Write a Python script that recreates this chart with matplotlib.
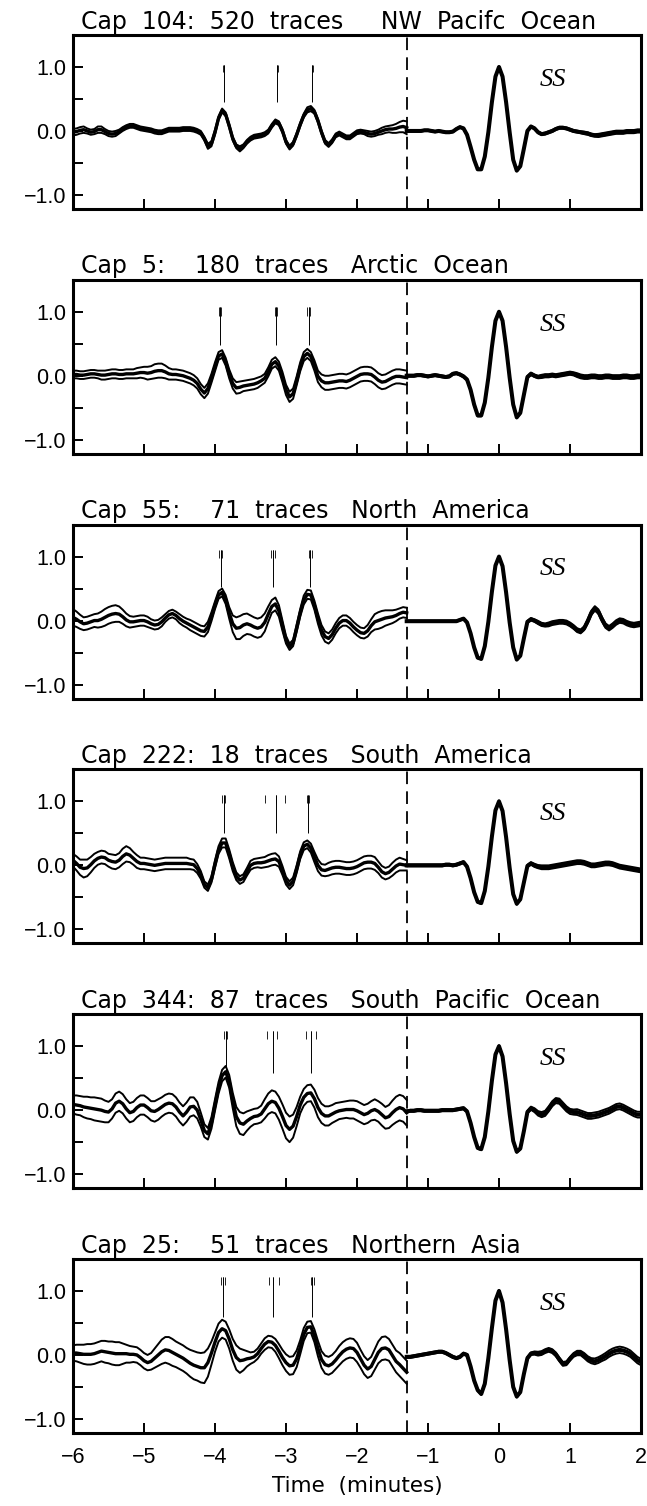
"""Stacked SS precursor stacks for six caps (mean trace with +/- spread)."""
import numpy as np
import matplotlib.pyplot as plt

# ── data ─────────────────────────────────────────────────────────────
titles = [
    "Cap  104:  520  traces     NW  Pacifc  Ocean",
    "Cap  5:    180  traces   Arctic  Ocean",
    "Cap  55:    71  traces   North  America",
    "Cap  222:  18  traces   South  America",
    "Cap  344:  87  traces   South  Pacific  Ocean",
    "Cap  25:    51  traces   Northern  Asia",
]

# time samples (minutes) of the precursor window and of the SS window
t_pre = np.linspace(-6.0, -1.3, 95)
t_ss = np.linspace(-1.3, 2.0, 67)
window_split = -1.3

# precursor window: stacked mean and spread, one list per cap
pre_mean_104 = [
    -0.02, -0.01, 0.01, 0.02, 0.00, -0.02, -0.01, 0.02, 0.02, -0.01,
    -0.04, -0.05, -0.04, -0.01, 0.03, 0.06, 0.08, 0.08, 0.06, 0.04,
    0.03, 0.02, 0.01, -0.01, -0.02, -0.02, 0.00, 0.02, 0.02, 0.02,
    0.02, 0.03, 0.03, 0.03, 0.02, 0.00, -0.03, -0.12, -0.24, -0.20,
    -0.02, 0.20, 0.32, 0.26, 0.08, -0.12, -0.24, -0.28, -0.24, -0.17,
    -0.12, -0.09, -0.08, -0.07, -0.05, -0.01, 0.08, 0.15, 0.12, 0.00,
    -0.17, -0.26, -0.20, -0.06, 0.10, 0.24, 0.33, 0.35, 0.30, 0.16,
    -0.02, -0.17, -0.22, -0.16, -0.07, -0.04, -0.07, -0.10, -0.10, -0.06,
    -0.02, -0.01, -0.02, -0.04, -0.05, -0.04, -0.02, 0.00, 0.02, 0.03,
    0.03, 0.04, 0.06, 0.07, 0.05]
pre_spread_104 = [
    0.05, 0.05, 0.05, 0.05, 0.04, 0.04, 0.04, 0.05, 0.05, 0.04,
    0.04, 0.04, 0.04, 0.03, 0.03, 0.03, 0.03, 0.03, 0.03, 0.03,
    0.03, 0.03, 0.03, 0.03, 0.03, 0.03, 0.03, 0.03, 0.03, 0.03,
    0.03, 0.03, 0.03, 0.03, 0.03, 0.03, 0.03, 0.03, 0.04, 0.04,
    0.04, 0.03, 0.03, 0.03, 0.03, 0.03, 0.03, 0.04, 0.03, 0.03,
    0.03, 0.03, 0.03, 0.03, 0.03, 0.03, 0.03, 0.03, 0.03, 0.03,
    0.03, 0.03, 0.03, 0.03, 0.03, 0.03, 0.04, 0.04, 0.03, 0.03,
    0.03, 0.03, 0.03, 0.03, 0.03, 0.03, 0.03, 0.03, 0.03, 0.03,
    0.03, 0.03, 0.03, 0.04, 0.04, 0.04, 0.04, 0.05, 0.05, 0.05,
    0.06, 0.07, 0.08, 0.09, 0.10]

pre_mean_5 = [
    0.02, 0.02, 0.01, 0.01, 0.02, 0.03, 0.03, 0.02, 0.01, 0.01,
    0.02, 0.03, 0.03, 0.02, 0.02, 0.03, 0.03, 0.03, 0.04, 0.05,
    0.05, 0.04, 0.05, 0.07, 0.08, 0.08, 0.06, 0.03, 0.02, 0.02,
    0.01, 0.00, -0.02, -0.04, -0.07, -0.12, -0.21, -0.27, -0.20, -0.04,
    0.14, 0.31, 0.34, 0.22, 0.03, -0.12, -0.19, -0.18, -0.16, -0.15,
    -0.14, -0.13, -0.11, -0.08, -0.04, 0.06, 0.18, 0.22, 0.15, -0.02,
    -0.22, -0.33, -0.28, -0.08, 0.14, 0.30, 0.35, 0.30, 0.16, -0.01,
    -0.08, -0.11, -0.11, -0.10, -0.09, -0.08, -0.08, -0.09, -0.07, -0.04,
    -0.01, 0.02, 0.03, 0.03, 0.02, -0.02, -0.07, -0.10, -0.09, -0.06,
    -0.03, -0.01, -0.01, -0.02, -0.03]
pre_spread_5 = [
    0.06, 0.06, 0.06, 0.06, 0.06, 0.06, 0.06, 0.06, 0.07, 0.07,
    0.07, 0.07, 0.07, 0.07, 0.07, 0.07, 0.07, 0.07, 0.08, 0.08,
    0.09, 0.10, 0.10, 0.11, 0.11, 0.11, 0.10, 0.09, 0.08, 0.08,
    0.08, 0.08, 0.08, 0.08, 0.08, 0.08, 0.08, 0.08, 0.08, 0.07,
    0.07, 0.06, 0.06, 0.06, 0.07, 0.08, 0.09, 0.09, 0.08, 0.08,
    0.08, 0.08, 0.08, 0.07, 0.07, 0.07, 0.07, 0.07, 0.07, 0.08,
    0.08, 0.08, 0.08, 0.07, 0.07, 0.07, 0.07, 0.07, 0.08, 0.09,
    0.10, 0.11, 0.11, 0.11, 0.11, 0.11, 0.11, 0.11, 0.11, 0.11,
    0.11, 0.11, 0.11, 0.11, 0.11, 0.11, 0.11, 0.11, 0.11, 0.11,
    0.11, 0.11, 0.11, 0.11, 0.11]

pre_mean_55 = [
    0.05, 0.02, -0.02, -0.05, -0.04, -0.02, 0.00, 0.00, 0.02, 0.05,
    0.08, 0.10, 0.11, 0.10, 0.06, 0.01, -0.02, -0.02, -0.01, 0.00,
    0.00, -0.02, -0.05, -0.07, -0.06, -0.02, 0.04, 0.09, 0.11, 0.08,
    0.03, -0.01, -0.04, -0.07, -0.10, -0.13, -0.16, -0.17, -0.10, 0.06,
    0.24, 0.40, 0.44, 0.33, 0.12, -0.05, -0.12, -0.11, -0.07, -0.05,
    -0.07, -0.10, -0.12, -0.10, -0.03, 0.10, 0.22, 0.26, 0.15, -0.08,
    -0.30, -0.41, -0.35, -0.12, 0.12, 0.32, 0.41, 0.40, 0.24, 0.03,
    -0.15, -0.25, -0.28, -0.22, -0.12, -0.04, 0.00, 0.00, -0.04, -0.10,
    -0.15, -0.19, -0.20, -0.16, -0.08, -0.02, 0.00, 0.02, 0.04, 0.05,
    0.06, 0.08, 0.11, 0.13, 0.12]
pre_spread_55 = [
    0.13, 0.12, 0.11, 0.10, 0.10, 0.10, 0.10, 0.11, 0.12, 0.13,
    0.13, 0.13, 0.13, 0.12, 0.11, 0.10, 0.09, 0.08, 0.08, 0.08,
    0.08, 0.08, 0.07, 0.07, 0.07, 0.07, 0.06, 0.06, 0.06, 0.06,
    0.07, 0.07, 0.07, 0.08, 0.08, 0.08, 0.08, 0.08, 0.08, 0.07,
    0.06, 0.06, 0.06, 0.07, 0.09, 0.13, 0.17, 0.18, 0.17, 0.16,
    0.15, 0.15, 0.15, 0.15, 0.14, 0.12, 0.10, 0.10, 0.09, 0.08,
    0.06, 0.05, 0.05, 0.06, 0.06, 0.07, 0.07, 0.07, 0.07, 0.08,
    0.08, 0.08, 0.08, 0.08, 0.08, 0.08, 0.08, 0.08, 0.08, 0.08,
    0.08, 0.08, 0.08, 0.09, 0.10, 0.12, 0.13, 0.13, 0.12, 0.11,
    0.10, 0.09, 0.08, 0.08, 0.08]

pre_mean_222 = [
    0.08, 0.03, -0.03, -0.05, -0.04, 0.01, 0.07, 0.11, 0.13, 0.12,
    0.08, 0.06, 0.05, 0.08, 0.14, 0.18, 0.16, 0.11, 0.06, 0.03,
    0.03, 0.02, 0.01, 0.00, 0.01, 0.02, 0.03, 0.03, 0.03, 0.03,
    0.03, 0.03, 0.03, 0.02, 0.01, -0.05, -0.15, -0.30, -0.35, -0.22,
    0.02, 0.24, 0.35, 0.35, 0.18, -0.02, -0.17, -0.23, -0.20, -0.10,
    0.00, 0.03, 0.04, 0.04, 0.05, 0.07, 0.09, 0.10, 0.06, -0.08,
    -0.24, -0.31, -0.25, -0.06, 0.16, 0.30, 0.33, 0.27, 0.13, 0.00,
    -0.07, -0.08, -0.06, -0.04, -0.03, -0.03, -0.04, -0.05, -0.05, -0.04,
    -0.02, 0.01, 0.04, 0.05, 0.05, 0.03, -0.03, -0.10, -0.13, -0.11,
    -0.06, -0.01, 0.02, 0.01, 0.00]
pre_spread_222 = [
    0.10, 0.11, 0.12, 0.14, 0.13, 0.12, 0.11, 0.10, 0.10, 0.10,
    0.10, 0.11, 0.11, 0.11, 0.12, 0.12, 0.11, 0.10, 0.10, 0.09,
    0.09, 0.09, 0.09, 0.09, 0.09, 0.09, 0.09, 0.09, 0.09, 0.09,
    0.09, 0.09, 0.09, 0.08, 0.08, 0.07, 0.06, 0.05, 0.05, 0.05,
    0.06, 0.06, 0.07, 0.07, 0.07, 0.07, 0.06, 0.06, 0.06, 0.06,
    0.07, 0.07, 0.07, 0.08, 0.08, 0.09, 0.09, 0.09, 0.08, 0.07,
    0.06, 0.06, 0.06, 0.06, 0.06, 0.06, 0.06, 0.07, 0.08, 0.09,
    0.09, 0.09, 0.10, 0.10, 0.10, 0.10, 0.10, 0.10, 0.10, 0.10,
    0.10, 0.10, 0.10, 0.10, 0.10, 0.10, 0.09, 0.09, 0.09, 0.09,
    0.10, 0.10, 0.10, 0.09, 0.08]

pre_mean_344 = [
    0.09, 0.08, 0.07, 0.05, 0.04, 0.03, 0.02, 0.01, 0.00, -0.02,
    -0.03, 0.02, 0.11, 0.14, 0.10, 0.02, -0.04, -0.02, 0.04, 0.08,
    0.08, 0.04, -0.01, -0.02, 0.01, 0.05, 0.09, 0.11, 0.10, 0.05,
    -0.03, -0.09, -0.03, 0.05, 0.06, 0.00, -0.15, -0.32, -0.37, -0.20,
    0.08, 0.35, 0.54, 0.60, 0.45, 0.15, -0.10, -0.20, -0.22, -0.17,
    -0.13, -0.10, -0.09, -0.06, 0.02, 0.10, 0.14, 0.12, 0.03, -0.10,
    -0.24, -0.30, -0.25, -0.10, 0.08, 0.20, 0.26, 0.27, 0.18, 0.04,
    -0.05, -0.09, -0.09, -0.06, -0.03, -0.01, 0.00, 0.01, 0.01, 0.01,
    -0.01, -0.04, -0.07, -0.05, -0.01, 0.01, -0.02, -0.07, -0.12, -0.10,
    -0.04, 0.01, 0.04, 0.02, -0.04]
pre_spread_344 = [
    0.14, 0.15, 0.15, 0.16, 0.17, 0.17, 0.18, 0.18, 0.18, 0.17,
    0.16, 0.15, 0.15, 0.15, 0.15, 0.15, 0.15, 0.15, 0.15, 0.15,
    0.15, 0.15, 0.15, 0.16, 0.16, 0.15, 0.15, 0.15, 0.15, 0.15,
    0.15, 0.15, 0.15, 0.15, 0.14, 0.13, 0.11, 0.10, 0.09, 0.09,
    0.09, 0.09, 0.09, 0.09, 0.10, 0.12, 0.15, 0.17, 0.17, 0.15,
    0.13, 0.12, 0.12, 0.13, 0.15, 0.16, 0.17, 0.17, 0.18, 0.19,
    0.20, 0.20, 0.18, 0.15, 0.13, 0.13, 0.13, 0.13, 0.14, 0.15,
    0.15, 0.15, 0.15, 0.14, 0.14, 0.13, 0.13, 0.13, 0.14, 0.14,
    0.15, 0.15, 0.15, 0.15, 0.15, 0.16, 0.16, 0.17, 0.17, 0.18,
    0.19, 0.20, 0.20, 0.20, 0.20]

pre_mean_25 = [
    0.03, 0.03, 0.02, 0.01, 0.01, 0.01, 0.02, 0.04, 0.06, 0.05,
    0.04, 0.03, 0.02, 0.02, 0.02, 0.02, 0.01, 0.01, 0.00, -0.04,
    -0.09, -0.12, -0.10, -0.05, 0.00, 0.05, 0.08, 0.07, 0.04, 0.01,
    -0.02, -0.05, -0.09, -0.13, -0.16, -0.18, -0.20, -0.20, -0.12, 0.03,
    0.20, 0.35, 0.41, 0.38, 0.25, 0.08, -0.04, -0.09, -0.08, -0.06,
    -0.05, -0.03, 0.02, 0.10, 0.17, 0.21, 0.20, 0.15, 0.06, -0.04,
    -0.12, -0.17, -0.16, -0.06, 0.12, 0.32, 0.43, 0.44, 0.30, 0.10,
    -0.07, -0.15, -0.17, -0.14, -0.08, -0.01, 0.05, 0.09, 0.11, 0.10,
    0.04, -0.06, -0.16, -0.22, -0.18, -0.07, 0.04, 0.10, 0.11, 0.08,
    -0.01, -0.10, -0.15, -0.21, -0.27]
pre_spread_25 = [
    0.12, 0.13, 0.14, 0.15, 0.16, 0.16, 0.16, 0.16, 0.16, 0.17,
    0.17, 0.18, 0.18, 0.18, 0.16, 0.14, 0.13, 0.12, 0.12, 0.12,
    0.12, 0.12, 0.13, 0.15, 0.17, 0.19, 0.20, 0.21, 0.21, 0.20,
    0.20, 0.20, 0.20, 0.21, 0.22, 0.22, 0.23, 0.24, 0.22, 0.18,
    0.15, 0.14, 0.14, 0.14, 0.15, 0.17, 0.19, 0.19, 0.16, 0.12,
    0.09, 0.08, 0.08, 0.08, 0.09, 0.09, 0.09, 0.10, 0.11, 0.12,
    0.13, 0.14, 0.14, 0.13, 0.11, 0.10, 0.09, 0.09, 0.10, 0.12,
    0.13, 0.14, 0.14, 0.14, 0.14, 0.15, 0.15, 0.15, 0.15, 0.15,
    0.15, 0.14, 0.14, 0.14, 0.15, 0.16, 0.17, 0.18, 0.18, 0.17,
    0.17, 0.17, 0.18, 0.18, 0.18]

# SS window: stacked mean and spread, one list per cap
ss_mean_104 = [
    0.00, 0.00, 0.00, 0.00, 0.00, 0.01, 0.01, 0.00, -0.01, 0.00,
    -0.01, -0.02, -0.02, -0.01, 0.03, 0.06, 0.04, -0.06, -0.25, -0.45,
    -0.60, -0.60, -0.40, -0.02, 0.45, 0.85, 1.00, 0.85, 0.45, -0.02,
    -0.45, -0.62, -0.55, -0.28, 0.00, 0.07, 0.04, -0.02, -0.05, -0.04,
    -0.02, 0.00, 0.03, 0.05, 0.05, 0.04, 0.02, 0.00, -0.01, -0.02,
    -0.03, -0.04, -0.06, -0.07, -0.07, -0.06, -0.05, -0.04, -0.03, -0.02,
    -0.02, -0.02, -0.01, -0.01, -0.01, 0.00, 0.00]
ss_spread_104 = [
    0.01, 0.01, 0.01, 0.01, 0.01, 0.01, 0.01, 0.01, 0.01, 0.01,
    0.01, 0.01, 0.01, 0.01, 0.01, 0.01, 0.01, 0.01, 0.01, 0.01,
    0.01, 0.01, 0.01, 0.01, 0.01, 0.01, 0.01, 0.01, 0.01, 0.01,
    0.01, 0.01, 0.01, 0.01, 0.01, 0.01, 0.015, 0.015, 0.015, 0.015,
    0.015, 0.015, 0.015, 0.015, 0.015, 0.015, 0.015, 0.015, 0.015, 0.015,
    0.02, 0.02, 0.02, 0.02, 0.025, 0.025, 0.025, 0.025, 0.025, 0.025,
    0.025, 0.025, 0.025, 0.025, 0.025, 0.025, 0.025]

ss_mean_5 = [
    0.00, 0.00, 0.00, 0.01, 0.01, 0.00, -0.01, 0.00, 0.01, 0.00,
    -0.01, -0.02, -0.01, 0.03, 0.04, 0.02, -0.01, -0.06, -0.22, -0.45,
    -0.62, -0.62, -0.42, -0.03, 0.45, 0.86, 1.00, 0.86, 0.45, -0.03,
    -0.45, -0.65, -0.58, -0.30, -0.02, 0.03, 0.00, -0.02, -0.01, 0.00,
    0.00, 0.01, 0.00, 0.01, 0.02, 0.03, 0.04, 0.03, 0.01, -0.01,
    -0.02, -0.02, -0.01, -0.01, -0.02, -0.02, -0.01, -0.01, -0.02, -0.02,
    -0.02, -0.01, -0.01, -0.02, -0.02, -0.01, -0.01]
ss_spread_5 = [
    0.015, 0.015, 0.015, 0.015, 0.015, 0.015, 0.015, 0.015, 0.015, 0.015,
    0.015, 0.015, 0.015, 0.015, 0.015, 0.015, 0.015, 0.015, 0.015, 0.015,
    0.015, 0.015, 0.015, 0.015, 0.015, 0.015, 0.015, 0.015, 0.015, 0.015,
    0.015, 0.015, 0.015, 0.015, 0.015, 0.02, 0.02, 0.02, 0.025, 0.025,
    0.025, 0.025, 0.025, 0.025, 0.025, 0.025, 0.025, 0.025, 0.03, 0.03,
    0.03, 0.03, 0.03, 0.03, 0.03, 0.03, 0.03, 0.03, 0.03, 0.03,
    0.03, 0.03, 0.03, 0.03, 0.03, 0.03, 0.03]

ss_mean_55 = [
    -0.01, -0.01, -0.01, -0.01, -0.01, -0.01, -0.01, -0.01, -0.01, -0.01,
    -0.01, -0.01, -0.01, -0.01, -0.01, 0.01, 0.03, -0.03, -0.20, -0.42,
    -0.58, -0.60, -0.40, -0.02, 0.45, 0.86, 1.00, 0.85, 0.44, -0.03,
    -0.42, -0.61, -0.55, -0.28, -0.02, 0.02, 0.00, -0.03, -0.06, -0.07,
    -0.06, -0.04, -0.03, -0.02, -0.02, -0.03, -0.06, -0.10, -0.15, -0.17,
    -0.12, -0.01, 0.12, 0.19, 0.14, 0.02, -0.08, -0.12, -0.08, -0.03,
    0.00, -0.01, -0.04, -0.06, -0.07, -0.06, -0.05]
ss_spread_55 = [
    0.01, 0.01, 0.01, 0.01, 0.01, 0.01, 0.01, 0.01, 0.01, 0.01,
    0.01, 0.01, 0.01, 0.01, 0.01, 0.01, 0.01, 0.01, 0.01, 0.01,
    0.01, 0.01, 0.01, 0.01, 0.01, 0.01, 0.01, 0.01, 0.01, 0.01,
    0.01, 0.01, 0.01, 0.01, 0.015, 0.02, 0.02, 0.025, 0.025, 0.025,
    0.03, 0.03, 0.03, 0.03, 0.03, 0.03, 0.03, 0.03, 0.03, 0.03,
    0.03, 0.035, 0.035, 0.035, 0.035, 0.035, 0.035, 0.035, 0.035, 0.035,
    0.035, 0.035, 0.035, 0.035, 0.035, 0.035, 0.035]

ss_mean_222 = [
    0.00, 0.00, 0.00, 0.00, 0.00, 0.00, 0.00, 0.00, 0.00, 0.00,
    0.00, 0.01, 0.01, 0.00, 0.01, 0.03, 0.05, -0.02, -0.20, -0.42,
    -0.57, -0.59, -0.40, -0.02, 0.45, 0.86, 1.00, 0.85, 0.44, -0.04,
    -0.45, -0.60, -0.53, -0.27, -0.01, 0.03, 0.00, -0.02, -0.03, -0.03,
    -0.03, -0.02, -0.01, 0.00, 0.01, 0.02, 0.03, 0.04, 0.05, 0.05,
    0.04, 0.02, 0.00, 0.00, 0.01, 0.02, 0.03, 0.03, 0.02, 0.00,
    -0.02, -0.03, -0.04, -0.05, -0.06, -0.07, -0.08]
ss_spread_222 = [
    0.015, 0.015, 0.015, 0.015, 0.015, 0.015, 0.015, 0.015, 0.015, 0.015,
    0.015, 0.015, 0.015, 0.015, 0.015, 0.015, 0.015, 0.015, 0.015, 0.015,
    0.015, 0.015, 0.015, 0.015, 0.015, 0.015, 0.015, 0.015, 0.015, 0.015,
    0.015, 0.015, 0.015, 0.015, 0.02, 0.02, 0.025, 0.025, 0.03, 0.03,
    0.03, 0.03, 0.03, 0.03, 0.03, 0.03, 0.03, 0.03, 0.03, 0.03,
    0.03, 0.03, 0.03, 0.03, 0.03, 0.03, 0.03, 0.03, 0.03, 0.03,
    0.03, 0.03, 0.03, 0.03, 0.03, 0.03, 0.03]

ss_mean_344 = [
    -0.02, -0.01, -0.01, 0.00, 0.00, -0.01, -0.01, -0.01, -0.01, -0.01,
    0.00, 0.00, 0.00, 0.00, 0.01, 0.02, 0.03, -0.02, -0.20, -0.42,
    -0.59, -0.61, -0.42, -0.02, 0.46, 0.87, 1.00, 0.84, 0.42, -0.06,
    -0.48, -0.65, -0.60, -0.33, -0.03, 0.03, 0.00, -0.05, -0.07, -0.05,
    0.02, 0.10, 0.15, 0.14, 0.08, 0.02, -0.02, -0.03, -0.03, -0.05,
    -0.07, -0.09, -0.09, -0.08, -0.07, -0.05, -0.03, -0.01, 0.02, 0.05,
    0.06, 0.04, 0.01, -0.02, -0.05, -0.07, -0.07]
ss_spread_344 = [
    0.015, 0.015, 0.015, 0.015, 0.015, 0.015, 0.015, 0.015, 0.015, 0.015,
    0.015, 0.015, 0.015, 0.015, 0.015, 0.015, 0.015, 0.015, 0.015, 0.015,
    0.015, 0.015, 0.015, 0.015, 0.015, 0.015, 0.015, 0.015, 0.015, 0.015,
    0.015, 0.015, 0.015, 0.015, 0.02, 0.025, 0.03, 0.035, 0.04, 0.04,
    0.04, 0.04, 0.04, 0.04, 0.04, 0.04, 0.04, 0.04, 0.045, 0.045,
    0.045, 0.045, 0.045, 0.045, 0.045, 0.045, 0.045, 0.045, 0.045, 0.045,
    0.045, 0.045, 0.045, 0.045, 0.045, 0.045, 0.045]

ss_mean_25 = [
    -0.03, -0.03, -0.02, -0.01, 0.00, 0.01, 0.02, 0.03, 0.04, 0.05,
    0.05, 0.03, 0.00, -0.03, -0.05, -0.03, 0.02, 0.00, -0.18, -0.40,
    -0.55, -0.61, -0.45, -0.05, 0.42, 0.85, 1.00, 0.82, 0.40, -0.08,
    -0.50, -0.65, -0.58, -0.30, -0.05, 0.02, 0.03, 0.02, 0.03, 0.06,
    0.08, 0.06, 0.01, -0.07, -0.14, -0.13, -0.06, 0.00, 0.03, 0.03,
    -0.01, -0.06, -0.09, -0.10, -0.08, -0.05, -0.02, 0.02, 0.05, 0.07,
    0.08, 0.07, 0.05, 0.02, -0.03, -0.08, -0.11]
ss_spread_25 = [
    0.015, 0.015, 0.015, 0.015, 0.015, 0.015, 0.015, 0.015, 0.015, 0.015,
    0.015, 0.015, 0.015, 0.015, 0.015, 0.015, 0.015, 0.015, 0.015, 0.015,
    0.015, 0.015, 0.015, 0.015, 0.015, 0.015, 0.015, 0.015, 0.015, 0.015,
    0.015, 0.015, 0.015, 0.015, 0.02, 0.02, 0.025, 0.03, 0.03, 0.03,
    0.03, 0.03, 0.03, 0.03, 0.03, 0.03, 0.03, 0.03, 0.035, 0.035,
    0.04, 0.04, 0.04, 0.045, 0.045, 0.045, 0.05, 0.05, 0.05, 0.05,
    0.05, 0.05, 0.05, 0.05, 0.05, 0.05, 0.05]

pre_means = [pre_mean_104, pre_mean_5, pre_mean_55, pre_mean_222, pre_mean_344, pre_mean_25]
pre_spreads = [pre_spread_104, pre_spread_5, pre_spread_55, pre_spread_222,
               pre_spread_344, pre_spread_25]
ss_means = [ss_mean_104, ss_mean_5, ss_mean_55, ss_mean_222, ss_mean_344, ss_mean_25]
ss_spreads = [ss_spread_104, ss_spread_5, ss_spread_55, ss_spread_222,
              ss_spread_344, ss_spread_25]

# predicted precursor arrival times (minutes) and the amplitude range of their bars
marker_times = [
    [-3.88, -3.12, -2.63],
    [-3.93, -3.14, -2.68],
    [-3.92, -3.18, -2.66],
    [-3.88, -3.14, -2.69],
    [-3.85, -3.19, -2.65],
    [-3.89, -3.18, -2.63],
]
marker_low = [0.46, 0.48, 0.52, 0.50, 0.58, 0.60]
marker_high = [1.03, 1.08, 1.11, 1.10, 1.24, 1.22]
tuft_low = [0.92, 0.94, 0.98, 0.97, 1.11, 1.09]
tuft_offsets = [
    [[-0.01, 0.01], [-0.01, 0.01], [-0.01, 0.01]],
    [[-0.02, 0.0, 0.02], [-0.02, 0.0, 0.02], [-0.02, 0.0, 0.02]],
    [[-0.03, 0.0, 0.02], [-0.03, 0.0, 0.02], [-0.02, 0.0, 0.03]],
    [[-0.015, 0.0, 0.015], [-0.15, 0.0, 0.13], [-0.02, 0.0, 0.02]],
    [[-0.02, 0.0, 0.02], [-0.075, 0.0, 0.06], [-0.07, 0.0, 0.075]],
    [[-0.03, 0.0, 0.03], [-0.06, 0.0, 0.08], [-0.02, 0.0, 0.02]],
]

# ── figure ──────────────────────────────────────────────────────────
W, H = 647, 1506
fig = plt.figure(figsize=(W / 100, H / 100), dpi=100)

AX_LEFT, AX_RIGHT = 73, 641
AX_TOP0, AX_STEP, AX_HEIGHT = 35, 244.8, 174

TICK_FONT = ["Liberation Sans", "DejaVu Sans"]
TEXT_FONT = ["DejaVu Sans"]

for i in range(6):
    top = AX_TOP0 + AX_STEP * i
    ax = fig.add_axes([AX_LEFT / W, 1 - (top + AX_HEIGHT) / H,
                       (AX_RIGHT - AX_LEFT) / W, AX_HEIGHT / H])

    for t, mean, spread, lw_mean in ((t_pre, pre_means[i], pre_spreads[i], 2.4),
                                     (t_ss, ss_means[i], ss_spreads[i], 2.9)):
        mean = np.asarray(mean)
        spread = np.asarray(spread)
        ax.plot(t, mean + spread, color="black", lw=1.4, zorder=3)
        ax.plot(t, mean - spread, color="black", lw=1.4, zorder=3)
        ax.plot(t, mean, color="black", lw=lw_mean, zorder=4)

    ax.axvline(window_split, color="black", lw=1.3, ls=(0, (7, 4)), zorder=2)

    # arrival-time bars with their small tufts at the top
    for t0, offs in zip(marker_times[i], tuft_offsets[i]):
        ax.vlines(t0, marker_low[i], marker_high[i], color="black", lw=0.7)
        ax.vlines([t0 + o for o in offs], tuft_low[i], marker_high[i],
                  color="black", lw=0.6)

    ax.text(0.76, 0.8, "SS", fontsize=19, style="italic",
            family=["Liberation Serif", "DejaVu Serif"], ha="center", va="center")

    ax.text(0.014, 1.008, titles[i], transform=ax.transAxes, ha="left",
            va="bottom", fontsize=17, family=TEXT_FONT)

    ax.set_xlim(-6, 2)
    ax.set_ylim(-1.22, 1.5)
    ax.set_yticks([-1.0, -0.5, 0.0, 0.5, 1.0])
    ax.set_yticklabels(["\u22121.0", "", "0.0", "", "1.0"], family=TICK_FONT,
                       fontsize=15.5)
    ax.set_xticks(np.arange(-6, 3))
    if i == 5:
        ax.set_xticklabels([f"{v}".replace("-", "\u2212") for v in range(-6, 3)],
                           family=TICK_FONT, fontsize=15.5)
        ax.set_xlabel("Time  (minutes)", family=TEXT_FONT, fontsize=15.5, labelpad=6)
        ax.tick_params(axis="x", pad=10)
    else:
        ax.set_xticklabels([])
    ax.tick_params(direction="in", length=7, width=1.4)
    ax.tick_params(axis="y", pad=5)
    for sp in ax.spines.values():
        sp.set_linewidth(2.2)

fig.savefig("out.png", dpi=100, facecolor="white")
